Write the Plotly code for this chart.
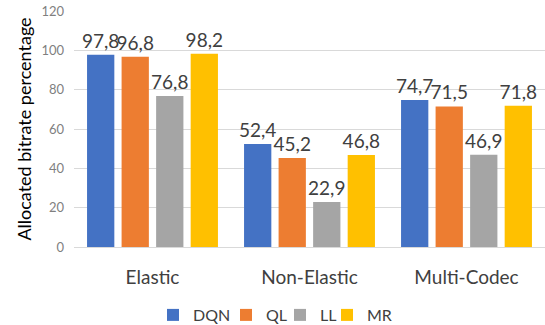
import plotly.graph_objects as go

categories = ["Elastic", "Non-Elastic", "Multi-Codec"]
series_names = ["DQN", "QL", "LL", "MR"]
dqn = [97.8, 52.4, 74.7]
ql = [96.8, 45.2, 71.5]
ll = [76.8, 22.9, 46.9]
mr = [98.2, 46.8, 71.8]
y_ticks = [0, 20, 40, 60, 80, 100, 120]

colors = ["#4472C4", "#ED7D31", "#A5A5A5", "#FFC000"]
font_family = "Lato, sans-serif"

# page geometry (px)
W, H = 545, 325
ML, MR_, MT, MB = 74, 0, 11, 78
plot_w = W - ML - MR_
plot_h = H - MT - MB

# one legend per series so the entries sit as a compact centred row
legend_left_px = [153, 226, 280, 327]
legend_center_y_px = 315
legend_ids = ["legend", "legend2", "legend3", "legend4"]

fig = go.Figure()
for name, vals, col, lid in zip(series_names, [dqn, ql, ll, mr], colors, legend_ids):
    fig.add_trace(go.Bar(
        name=name,
        x=categories,
        y=vals,
        legend=lid,
        marker=dict(color=col, line=dict(width=0)),
        texttemplate="%{y:.1f}",
        textposition="outside",
        constraintext="none",
        cliponaxis=False,
        textfont=dict(size=19, color="#404040", family=font_family),
        hoverinfo="skip",
    ))

legend_y = (H - MB - legend_center_y_px) / plot_h
legend_layout = {}
for lid, left in zip(legend_ids, legend_left_px):
    legend_layout[lid] = dict(
        orientation="h",
        x=(left - ML) / plot_w, xanchor="left",
        y=legend_y, yanchor="middle",
        font=dict(size=16, color="#404040", family=font_family),
        itemwidth=30,
        bgcolor="rgba(0,0,0,0)",
        borderwidth=0,
    )

fig.update_layout(
    width=W,
    height=H,
    margin=dict(l=ML, r=MR_, t=MT, b=MB, autoexpand=False),
    paper_bgcolor="white",
    plot_bgcolor="white",
    separators=",.",
    barmode="group",
    bargap=0.12,
    bargroupgap=0.21,
    font=dict(family=font_family, color="#404040"),
    showlegend=True,
    xaxis=dict(
        tickfont=dict(size=19, color="#404040"),
        showgrid=False,
        showline=False,
        ticks="",
        ticklabelstandoff=17,
    ),
    yaxis=dict(
        range=[0, 120],
        tickvals=y_ticks,
        tickfont=dict(size=13, color="#7f7f7f"),
        showgrid=True,
        gridcolor="#d9d9d9",
        gridwidth=1,
        zeroline=True,
        zerolinecolor="#d9d9d9",
        zerolinewidth=1,
        showline=False,
        ticks="",
        ticklabelstandoff=9,
        title=dict(
            text="Allocated bitrate percentage",
            font=dict(size=18, color="#000000"),
            standoff=5,
        ),
    ),
    **legend_layout,
)

fig.write_html("out.html")
